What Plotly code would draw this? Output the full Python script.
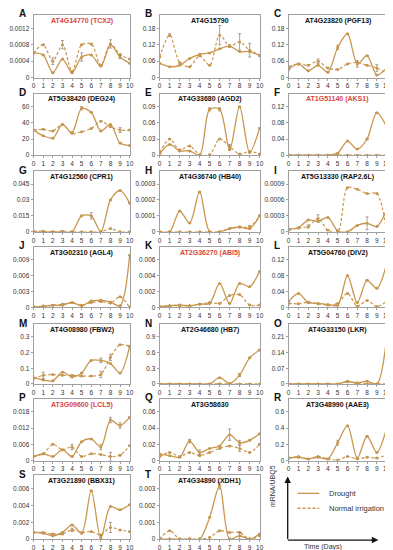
import plotly.graph_objects as go

W, H = 393, 550
days = list(range(11))
letters = list("ABCDEFGHIJKLMNOPQRST")
genes = [
    "AT4G14770 (TCX2)", "AT4G15790", "AT4G23820 (PGF13)",
    "AT5G38420 (DEG24)", "AT4G33680 (AGD2)", "AT1G51140 (AKS1)",
    "AT4G12560 (CPR1)", "AT4G36740 (HB40)", "AT5G13330 (RAP2.6L)",
    "AT3G02310 (AGL4)", "AT2G36270 (ABI5)", "AT5G04760 (DIV2)",
    "AT4G08980 (FBW2)", "AT2G46680 (HB7)", "AT4G33150 (LKR)",
    "AT3G09600 (LCL5)", "AT3G58630", "AT3G48990 (AAE3)",
    "AT3G21890 (BBX31)", "AT4G34890 (XDH1)",
]
red_titles = ["A", "F", "K", "P"]

# ---- values (mRNA/UBQ5), day 0..10 ----
A_drought = [0.0006, 0.00055, 0.00012, 0.00045, 0.00012, 0.0005, 0.00055, 0.00028, 0.0008, 0.0005, 0.00035]
A_normal = [0.0006, 0.0008, 0.0004, 0.0008, 0.00015, 0.0008, 0.00082, 0.0003, 0.00082, 0.00056, 0.00045]
A_derr = [0, 0, 0, 0, 0, 0.0001, 0, 0, 0, 0.00004, 0]
A_nerr = [0, 0, 0.00008, 0.0001, 0, 0, 0, 0, 0.0001, 0, 0]
A_ticks = [0, 0.0004, 0.0008, 0.0012]

B_drought = [0.052, 0.04, 0.045, 0.07, 0.085, 0.09, 0.105, 0.115, 0.095, 0.095, 0.08]
B_normal = [0.075, 0.155, 0.055, 0.04, 0.08, 0.045, 0.155, 0.115, 0.13, 0.1, 0.082]
B_derr = [0, 0, 0, 0, 0, 0, 0, 0, 0, 0, 0]
B_nerr = [0, 0.005, 0, 0, 0, 0, 0.035, 0.005, 0.03, 0.025, 0]
B_ticks = [0, 0.06, 0.12, 0.18]

C_drought = [0.03, 0.05, 0.025, 0.045, 0.02, 0.11, 0.16, 0.05, 0.08, 0.01, 0.035]
C_normal = [0.04, 0.05, 0.045, 0.06, 0.035, 0.03, 0.05, 0.055, 0.045, 0.035, 0.015]
C_derr = [0, 0, 0, 0, 0, 0.008, 0, 0.012, 0, 0, 0]
C_nerr = [0, 0, 0, 0.008, 0, 0, 0, 0, 0, 0.012, 0]
C_ticks = [0, 0.06, 0.12, 0.18]

D_drought = [31, 24, 21, 38, 28, 58, 53, 30, 38, 15, 12]
D_normal = [31, 32, 30, 38, 27, 29, 33, 42, 35, 31, 31]
D_derr = [0, 0, 0, 0, 0, 2, 0, 0, 0, 0, 0]
D_nerr = [0, 0, 0, 0, 0, 0, 0, 0, 0, 3, 0]
D_ticks = [0, 20, 40, 60]

E_drought = [0.003, 0.02, 0.008, 0.008, 0.0, 0.085, 0.085, 0.01, 0.09, 0.005, 0.05]
E_normal = [0.005, 0.03, 0.01, 0.017, 0.001, 0.001, 0.03, 0.016, 0.002, 0.007, 0.002]
E_derr = [0, 0, 0, 0, 0, 0.003, 0.003, 0, 0, 0, 0]
E_nerr = [0, 0, 0, 0, 0, 0, 0, 0.004, 0, 0, 0]
E_ticks = [0, 0.03, 0.06, 0.09]

F_drought = [0, 0, 0, 0, 0, 0.005, 0.035, 0.015, 0.04, 0.105, 0.07]
F_normal = [0, 0, 0, 0, 0, 0, 0, 0, 0, 0, 0]
F_derr = [0, 0, 0, 0, 0, 0, 0, 0, 0, 0, 0]
F_nerr = [0, 0, 0, 0, 0, 0, 0, 0, 0, 0, 0]
F_ticks = [0, 0.04, 0.08, 0.12]

G_drought = [0, 0, 0, 0, 0, 0.015, 0.015, 0, 0.03, 0.039, 0.027]
G_normal = [0.0005, 0.0005, 0, 0.0005, 0, 0, 0, 0, 0.003, 0, 0]
G_derr = [0, 0, 0, 0, 0, 0, 0.003, 0, 0, 0, 0]
G_nerr = [0, 0, 0, 0, 0, 0, 0, 0, 0, 0, 0]
G_ticks = [0, 0.015, 0.03, 0.045]

H_drought = [0, 0, 0.00013, 0.000055, 0.00025, 0, 0, 0.00002, 0.00003, 0.00002, 0.0001]
H_normal = [0, 0, 0, 0, 0, 0, 0, 0.00002, 0.00003, 0.00003, 0.0001]
H_derr = [0, 0, 0, 0, 0, 0, 0, 0, 0, 0, 0]
H_nerr = [0, 0, 0, 0, 0, 0, 0, 0, 0, 0.00001, 0]
H_ticks = [0, 0.0001, 0.0002, 0.0003]

I_drought = [0.00005, 0.00008, 0.00022, 0.0002, 0.00027, 0.00002, 0.0, 0.00012, 0.00016, 0.0001, 0.00042]
I_normal = [0.00003, 0.00007, 0.0001, 0.00025, 0.00003, 0.0, 0.00083, 0.0008, 0.00072, 0.00072, 0.0]
I_derr = [0, 0, 0, 0, 0, 0, 0, 0, 0.00012, 0, 0]
I_nerr = [0, 0, 0.00003, 0.00007, 0, 0, 0, 0, 0, 0, 0]
I_ticks = [0, 0.0003, 0.0006, 0.0009]

J_drought = [0.0001, 0.0002, 0.0004, 0.0004, 0.0009, 0.0003, 0.0012, 0.0013, 0.001, 0.0003, 0.0098]
J_normal = [0.0001, 0.0002, 0.0004, 0.0006, 0.0009, 0.0004, 0.0009, 0.0011, 0.0008, 0.002, 0.0]
J_derr = [0, 0.0002, 0, 0, 0, 0, 0, 0.0002, 0, 0, 0]
J_nerr = [0, 0, 0, 0, 0, 0, 0, 0, 0, 0, 0]
J_ticks = [0, 0.003, 0.006, 0.009]

K_drought = [0.0001, 0.0002, 0.0003, 0.0002, 0.0004, 0.0005, 0.003, 0.0005, 0.003, 0.0026, 0.0045]
K_normal = [0.0001, 0.0002, 0.0002, 0.0002, 0.0004, 0.0006, 0.0005, 0.0015, 0.0016, 0.0003, 0.0003]
K_derr = [0, 0, 0, 0, 0, 0, 0, 0, 0, 0, 0]
K_nerr = [0, 0, 0, 0, 0, 0, 0, 0, 0, 0, 0]
K_ticks = [0, 0.002, 0.004, 0.006]

L_drought = [0.015, 0.035, 0.012, 0.01, 0.007, 0.005, 0.08, 0.012, 0.068, 0.048, 0.11]
L_normal = [0.01, 0.009, 0.013, 0.009, 0.006, 0.01, 0.035, 0.003, 0.017, 0.002, 0.015]
L_derr = [0, 0, 0, 0, 0, 0, 0, 0, 0, 0, 0]
L_nerr = [0, 0, 0, 0, 0, 0, 0, 0, 0, 0, 0]
L_ticks = [0, 0.04, 0.08, 0.12]

M_drought = [0.04, 0.025, 0.02, 0.075, 0.045, 0.07, 0.15, 0.15, 0.13, 0.07, 0.24]
M_normal = [0.035, 0.055, 0.06, 0.055, 0.055, 0.05, 0.05, 0.06, 0.17, 0.25, 0.24]
M_derr = [0, 0, 0, 0, 0, 0, 0, 0.015, 0, 0, 0]
M_nerr = [0, 0.02, 0, 0, 0, 0, 0, 0.02, 0.02, 0, 0]
M_ticks = [0, 0.1, 0.2, 0.3]

N_drought = [0, 0, 0, 0, 0, 0, 0.12, 0.01, 0.17, 0.5, 0.65]
N_normal = [0, 0, 0, 0, 0, 0, 0.005, 0, 0, 0, 0]
N_derr = [0, 0, 0, 0, 0, 0, 0, 0, 0.03, 0, 0]
N_nerr = [0, 0, 0, 0, 0, 0, 0, 0, 0, 0, 0]
N_ticks = [0, 0.3, 0.6, 0.9]

O_drought = [0, 0, 0, 0, 0, 0, 0.01, 0.005, 0.012, 0.0, 0.21]
O_normal = [0, 0, 0, 0, 0, 0, 0.012, 0.002, 0, 0, 0]
O_derr = [0, 0, 0, 0, 0, 0, 0, 0, 0, 0, 0]
O_nerr = [0, 0, 0, 0, 0, 0, 0, 0, 0, 0, 0]
O_ticks = [0, 0.07, 0.14, 0.21]

P_drought = [0.0015, 0.0025, 0.0015, 0.004, 0.0015, 0.007, 0.008, 0.005, 0.015, 0.013, 0.016]
P_normal = [0.0015, 0.0025, 0.006, 0.004, 0.005, 0.0015, 0.0025, 0.0022, 0.0015, 0.002, 0.0055]
P_derr = [0, 0, 0, 0, 0, 0, 0, 0.001, 0.001, 0.001, 0]
P_nerr = [0, 0, 0, 0, 0.001, 0, 0, 0, 0.0015, 0, 0]
P_ticks = [0, 0.006, 0.012, 0.018]

Q_drought = [0.008, 0.006, 0.004, 0.024, 0.01, 0.015, 0.018, 0.032, 0.022, 0.025, 0.033]
Q_normal = [0.005, 0.01, 0.005, 0.01, 0.006, 0.01, 0.015, 0.018, 0.015, 0.01, 0.02]
Q_derr = [0, 0, 0, 0.002, 0.003, 0, 0, 0.007, 0.003, 0, 0]
Q_nerr = [0, 0, 0, 0, 0, 0, 0, 0, 0.004, 0, 0]
Q_ticks = [0, 0.02, 0.04, 0.06]

R_drought = [0.03, 0.04, 0.02, 0.04, 0.02, 0.22, 0.43, 0.03, 0.3, 0.1, 0.4]
R_normal = [0.03, 0.05, 0.02, 0.05, 0.02, 0.005, 0.05, 0.02, 0.04, 0.03, 0.07]
R_derr = [0, 0, 0, 0, 0, 0.03, 0, 0, 0, 0, 0]
R_nerr = [0, 0, 0, 0, 0, 0, 0, 0, 0, 0, 0]
R_ticks = [0, 0.2, 0.4, 0.6]

S_drought = [0.0008, 0.0007, 0.0004, 0.0008, 0.0017, 0.0007, 0.0058, 0.0001, 0.0039, 0.0035, 0.0041]
S_normal = [0.0008, 0.0008, 0.0006, 0.0006, 0.0011, 0.0008, 0.0009, 0.0005, 0.0014, 0.0011, 0.0009]
S_derr = [0, 0, 0, 0, 0, 0, 0, 0.0003, 0, 0, 0]
S_nerr = [0, 0, 0, 0, 0.0002, 0, 0, 0, 0.0006, 0, 0]
S_ticks = [0, 0.002, 0.004, 0.006]

T_drought = [0, 0, 0, 0, 0, 0.0013, 0.0032, 0, 0.0002, 0, 0.0003]
T_normal = [0, 0.0005, 0, 0, 0, 0.0001, 0.0005, 0.0004, 0.0004, 0.0, 0.0002]
T_derr = [0, 0, 0, 0, 0, 0, 0.0002, 0, 0.0002, 0, 0]
T_nerr = [0, 0, 0, 0, 0, 0, 0, 0, 0, 0, 0]
T_ticks = [0, 0.001, 0.002, 0.003]

x_ticks = list(range(11))
legend_names = ["Drought", "Normal irrigation"]
y_title = "mRNA/UBQ5"
x_title = "Time (Days)"

panels = [
    (A_drought, A_normal, A_derr, A_nerr, A_ticks),
    (B_drought, B_normal, B_derr, B_nerr, B_ticks),
    (C_drought, C_normal, C_derr, C_nerr, C_ticks),
    (D_drought, D_normal, D_derr, D_nerr, D_ticks),
    (E_drought, E_normal, E_derr, E_nerr, E_ticks),
    (F_drought, F_normal, F_derr, F_nerr, F_ticks),
    (G_drought, G_normal, G_derr, G_nerr, G_ticks),
    (H_drought, H_normal, H_derr, H_nerr, H_ticks),
    (I_drought, I_normal, I_derr, I_nerr, I_ticks),
    (J_drought, J_normal, J_derr, J_nerr, J_ticks),
    (K_drought, K_normal, K_derr, K_nerr, K_ticks),
    (L_drought, L_normal, L_derr, L_nerr, L_ticks),
    (M_drought, M_normal, M_derr, M_nerr, M_ticks),
    (N_drought, N_normal, N_derr, N_nerr, N_ticks),
    (O_drought, O_normal, O_derr, O_nerr, O_ticks),
    (P_drought, P_normal, P_derr, P_nerr, P_ticks),
    (Q_drought, Q_normal, Q_derr, Q_nerr, Q_ticks),
    (R_drought, R_normal, R_derr, R_nerr, R_ticks),
    (S_drought, S_normal, S_derr, S_nerr, S_ticks),
    (T_drought, T_normal, T_derr, T_nerr, T_ticks),
]

# ---- layout geometry (pixels) ----
col_left = [24, 152, 283]
col_right = [122, 254, 383]
row_top = [7, 86, 164, 240, 318, 393, 470]
row_bot = [70, 148, 225, 301, 378, 455, 534]

COLOR = "#C8964E"
DASH = "3px,2px"
FONT = "Liberation Sans, Arial, sans-serif"

def px_x(p):
    return p / W

def px_y(p):
    return 1 - p / H

fig = go.Figure()
layout = {}
annotations = []
shapes = []

for i, (dr, nr, de, ne, ticks) in enumerate(panels):
    r, c = divmod(i, 3)
    k = i + 1
    xa = "x" if k == 1 else f"x{k}"
    ya = "y" if k == 1 else f"y{k}"
    xkey = "xaxis" if k == 1 else f"xaxis{k}"
    ykey = "yaxis" if k == 1 else f"yaxis{k}"
    fig.add_trace(go.Scatter(
        x=days, y=nr, xaxis=xa, yaxis=ya, mode="lines+markers",
        line=dict(color=COLOR, width=1.2, dash=DASH, shape="spline", smoothing=0.85),
        marker=dict(size=3, color=COLOR),
        error_y=dict(type="data", array=ne, color="#8a7a66", thickness=0.7, width=1.5),
        showlegend=False, name=legend_names[1]))
    fig.add_trace(go.Scatter(
        x=days, y=dr, xaxis=xa, yaxis=ya, mode="lines+markers",
        line=dict(color=COLOR, width=1.3, shape="spline", smoothing=0.85),
        marker=dict(size=3, color=COLOR),
        error_y=dict(type="data", array=de, color="#8a7a66", thickness=0.7, width=1.5),
        showlegend=False, name=legend_names[0]))
    top = ticks[-1] * 1.27
    layout[xkey] = dict(
        domain=[px_x(col_left[c]), px_x(col_right[c])], anchor=ya,
        range=[0, 10.05], tickvals=x_ticks, ticktext=[str(v) for v in x_ticks],
        showline=True, mirror=True, linecolor="#a0a0a0", linewidth=1,
        ticks="outside", ticklen=2, tickcolor="#a0a0a0",
        showgrid=False, zeroline=False, ticklabeloverflow="allow",
        tickfont=dict(size=6.5, color="#333", family=FONT))
    layout[ykey] = dict(
        domain=[px_y(row_bot[r]), px_y(row_top[r])], anchor=xa,
        range=[0, top], tickvals=ticks, ticktext=[f"{v:g}" for v in ticks],
        showline=True, mirror=True, linecolor="#a0a0a0", linewidth=1,
        ticks="outside", ticklen=2, tickcolor="#a0a0a0",
        showgrid=False, zeroline=False,
        tickfont=dict(size=6.5, color="#333", family=FONT))
    tcolor = "#D9463B" if letters[i] in red_titles else "#111"
    annotations.append(dict(
        x=px_x((col_left[c] + col_right[c]) / 2), y=px_y(row_top[r] + 6),
        xref="paper", yref="paper", text=f"<b>{genes[i]}</b>", showarrow=False,
        font=dict(size=7, color=tcolor, family=FONT), xanchor="center", yanchor="middle"))
    annotations.append(dict(
        x=px_x(col_left[c] - 17), y=px_y(row_top[r] - 1),
        xref="paper", yref="paper", text=f"<b>{letters[i]}</b>", showarrow=False,
        font=dict(size=10, color="#111", family=FONT), xanchor="left", yanchor="middle"))

# schematic axes with arrows
annotations.append(dict(x=px_x(282), y=px_y(471), ax=0, ay=64,
                        xref="paper", yref="paper", axref="pixel", ayref="pixel",
                        showarrow=True, arrowhead=2, arrowsize=1, arrowwidth=1.3,
                        arrowcolor="#111", text=""))
annotations.append(dict(x=px_x(374), y=px_y(535), ax=-92, ay=0,
                        xref="paper", yref="paper", axref="pixel", ayref="pixel",
                        showarrow=True, arrowhead=2, arrowsize=1, arrowwidth=1.3,
                        arrowcolor="#111", text=""))
annotations.append(dict(x=px_x(273), y=px_y(504), xref="paper", yref="paper",
                        text=y_title, showarrow=False, textangle=-90,
                        font=dict(size=7, color="#333", family=FONT)))
annotations.append(dict(x=px_x(338), y=px_y(542), xref="paper", yref="paper",
                        text=x_title, showarrow=False, yanchor="middle", borderpad=0,
                        font=dict(size=7, color="#333", family=FONT)))

# legend key (drawn)
legend_rows = [(488, "solid"), (503, "3px,2px")]
for (ly, dsh), name in zip(legend_rows, legend_names):
    shapes.append(dict(type="line", xref="paper", yref="paper",
                       x0=px_x(292), x1=px_x(314), y0=px_y(ly), y1=px_y(ly),
                       line=dict(color=COLOR, width=1.3, dash=dsh)))
    annotations.append(dict(x=px_x(322), y=px_y(ly), xref="paper", yref="paper",
                            text=name, showarrow=False, xanchor="left", yanchor="middle",
                            font=dict(size=7.5, color="#333", family=FONT)))

fig.update_layout(
    width=W, height=H, margin=dict(l=0, r=0, t=0, b=0),
    paper_bgcolor="white", plot_bgcolor="white",
    annotations=annotations, shapes=shapes,
    showlegend=False,
    **layout,
)

fig.write_html("out.html")
